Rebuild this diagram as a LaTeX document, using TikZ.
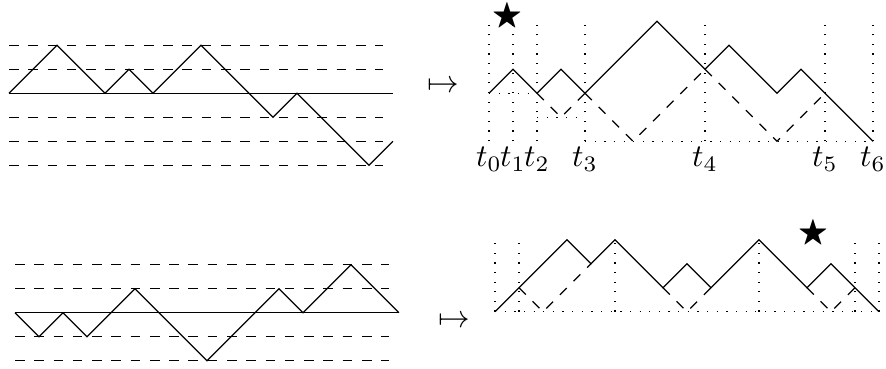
\documentclass[tikz,border=0pt]{standalone}
\usepackage{amssymb}
\tikzset{
  guide/.style={line width=0.4pt, dash pattern=on 3.05pt off 3.05pt},
  refl/.style={line width=0.4pt, dash pattern=on 3.05pt off 3.05pt},
  dots/.style={line width=0.4pt, dash pattern=on 0.4pt off 2.65pt},
  walk/.style={line width=0.4pt, line join=miter},
  lbl/.style={anchor=base, inner sep=0pt},
  starmark/.style={inner sep=0pt},
  panel/.style={x=7.596pt, y=7.596pt}
}
\begin{document}
\begin{tikzpicture}[x=0.3165pt, y=-0.3165pt]
\useasboundingbox (0,0) rectangle (886,368);

% ---------- top left ----------
\begin{scope}[shift={(9,93.3)}, panel]
  \foreach \l in {2,1,-1,-2,-3} \draw[guide] (0,\l) -- (15.6,\l);
  \draw[walk] (0,0) -- (16,0);
  \draw[walk] (0,0) -- (2,2) -- (4,0) -- (5,1) -- (6,0) -- (8,2) -- (11,-1) -- (12,0) -- (15,-3) -- (16,-2);
\end{scope}

\node (m1) at (443,87) {$\mapsto$};

% ---------- top right ----------
\begin{scope}[shift={(489,93.3)}, panel]
  \foreach \u/\i in {0/0,1/1,2/2,4/3,9/4,14/5,16/6} {
    \draw[dots] (\u,-2) -- (\u,2.85);
    \node[lbl] (t\i) at (\u,-3.06) {$t_{\i}$};
  }
  \draw[dots] (0,0) -- (2,0);
  \draw[dots] (2,-1) -- (4,-1);
  \draw[dots] (4,-2) -- (16,-2);
  \draw[refl] (2,0) -- (3,-1) -- (4,0);
  \draw[refl] (4,0) -- (6,-2) -- (9,1);
  \draw[refl] (9,1) -- (12,-2) -- (14,0);
  \draw[walk] (0,0) -- (1,1) -- (2,0) -- (3,1) -- (4,0) -- (7,3) -- (9,1) -- (10,2) -- (12,0) -- (13,1) -- (16,-2);
  \node[starmark] (s1) at (0.75,3.2) {$\bigstar$};
\end{scope}

% ---------- bottom left ----------
\begin{scope}[shift={(15,312.7)}, panel]
  \foreach \l in {2,1,-1,-2} \draw[guide] (0,\l) -- (15.6,\l);
  \draw[walk] (0,0) -- (16,0);
  \draw[walk] (0,0) -- (1,-1) -- (2,0) -- (3,-1) -- (5,1) -- (8,-2) -- (11,1) -- (12,0) -- (14,2) -- (16,0);
\end{scope}

\node (m2) at (454,322) {$\mapsto$};

% ---------- bottom right ----------
\begin{scope}[shift={(495,311.7)}, panel]
  \foreach \u in {0,1,5,11,15,16} \draw[dots] (\u,0) -- (\u,2.9);
  \draw[dots] (0,0) -- (16,0);
  \draw[refl] (1,1) -- (2,0) -- (4,2);
  \draw[refl] (7,1) -- (8,0) -- (9,1);
  \draw[refl] (13,1) -- (14,0) -- (15,1);
  \draw[walk] (0,0) -- (3,3) -- (4,2) -- (5,3) -- (7,1) -- (8,2) -- (9,1) -- (11,3) -- (13,1) -- (14,2) -- (16,0);
  \node[starmark] (s2) at (13.25,3.245) {$\bigstar$};
\end{scope}
\end{tikzpicture}
\end{document}
